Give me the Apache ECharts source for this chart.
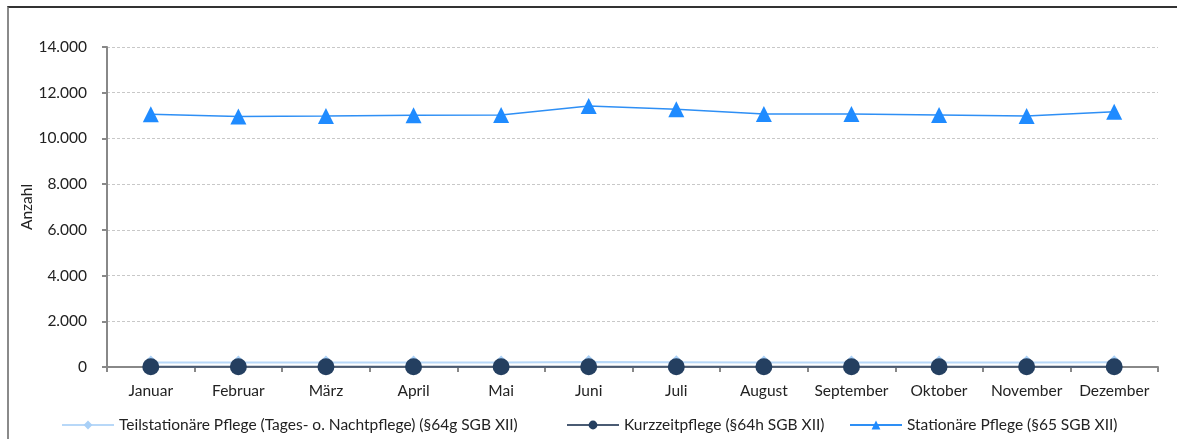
<!DOCTYPE html>
<html lang="de">
<head>
    <title>Pflege Anzahl</title>
    <meta charset="utf-8">
    <style>
        body { margin: 0; background: #fff; }
        #frame { position: absolute; left: 7px; top: 6px; width: 1180px; height: 440px;
                 border-left: 2px solid #8a8a8a; border-top: 2px solid #333; }
        #main { position: absolute; left: 0; top: 0; width: 1177px; height: 439px; }
    </style>
</head>
<body>
<script type="text/javascript" src="https://cdn.jsdelivr.net/npm/echarts@6/dist/echarts.min.js"></script>
<div id="frame"></div>
<div id="main"></div>
<script type="text/javascript">
    var months = ['Januar', 'Februar', 'März', 'April', 'Mai', 'Juni', 'Juli', 'August', 'September', 'Oktober', 'November', 'Dezember'];
    var teilstationaer = [200, 195, 195, 200, 200, 215, 210, 200, 200, 195, 195, 205];
    var kurzzeit = [10, 10, 10, 10, 10, 10, 10, 10, 10, 10, 10, 10];
    var stationaer = [11055, 10955, 10980, 11010, 11025, 11420, 11275, 11070, 11065, 11025, 10980, 11170];
    var seriesNames = [
        'Teilstationäre Pflege (Tages- o. Nachtpflege) (§64g SGB XII)',
        'Kurzzeitpflege (§64h SGB XII)',
        'Stationäre Pflege (§65 SGB XII)'
    ];

    var font = 'Lato';
    var fs = 15.5;
    var myChart = echarts.init(document.getElementById('main'));

    function fmt(v) {
        return String(v).replace(/\B(?=(\d{3})+(?!\d))/g, '.');
    }

    // drei Legenden, damit die Abstände wie im Original sind
    var legendLefts = [56, 561, 844];
    var legends = seriesNames.map(function (n, i) {
        return {
            bottom: 1,
            left: legendLefts[i],
            itemWidth: 52,
            itemHeight: 11,
            itemGap: 5,
            textStyle: { fontFamily: font, fontSize: fs, color: '#222' },
            data: [n]
        };
    });

    var option = {
        animation: false,
        textStyle: { fontFamily: font, color: '#222' },
        grid: { left: 107, right: 19, top: 47, bottom: 72 },
        legend: legends,
        xAxis: {
            type: 'category',
            data: months,
            boundaryGap: true,
            axisLine: { lineStyle: { color: '#888', width: 2 } },
            axisTick: { show: true, length: 5, lineStyle: { color: '#888', width: 2 } },
            axisLabel: { interval: 0, fontSize: fs, color: '#222', margin: 16, fontFamily: font }
        },
        yAxis: {
            type: 'value',
            min: 0,
            max: 14000,
            interval: 2000,
            name: 'Anzahl',
            nameLocation: 'middle',
            nameGap: 72,
            nameMoveOverlap: false,
            nameTextStyle: { fontSize: fs, color: '#222', fontFamily: font },
            axisLine: { show: true, lineStyle: { color: '#888', width: 2 } },
            axisTick: { show: true, length: 5, lineStyle: { color: '#888', width: 2 } },
            axisLabel: { fontSize: fs, color: '#222', margin: 20, fontFamily: font, formatter: fmt },
            splitLine: { lineStyle: { color: '#c8c8c8', type: [3, 2], width: 1 } }
        },
        series: [{
            name: seriesNames[0],
            type: 'line',
            data: teilstationaer,
            symbol: 'diamond',
            symbolSize: 14,
            color: '#a9d0f7',
            lineStyle: { width: 2, color: '#b8d8f8' },
            itemStyle: { color: '#a9d0f7' },
            z: 2
        }, {
            name: seriesNames[1],
            type: 'line',
            data: kurzzeit,
            symbol: 'circle',
            symbolSize: 17,
            color: '#243f60',
            lineStyle: { width: 2, color: '#4a5b73' },
            itemStyle: { color: '#243f60' },
            z: 3
        }, {
            name: seriesNames[2],
            type: 'line',
            data: stationaer,
            symbol: 'triangle',
            symbolSize: 16,
            color: '#1f8bff',
            lineStyle: { width: 1.5, color: '#2e8ff5' },
            itemStyle: { color: '#1f8bff' },
            z: 4
        }]
    };
    myChart.setOption(option);
</script>
</body>
</html>
